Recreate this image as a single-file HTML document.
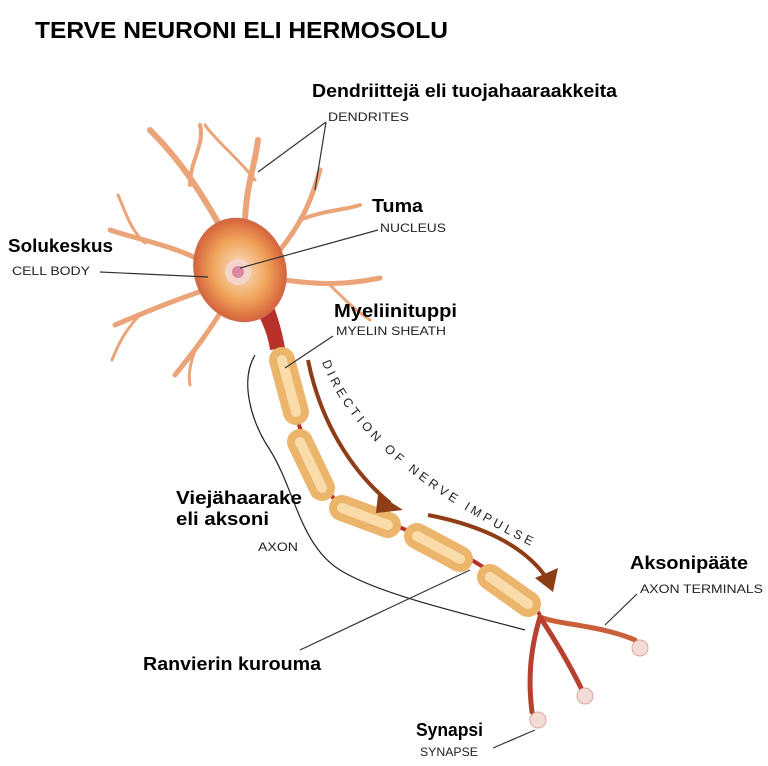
<!DOCTYPE html>
<html><head><meta charset="utf-8"><style>
html,body{margin:0;padding:0;background:#fff;}
svg{display:block;}
.b{font-family:"Liberation Sans",sans-serif;font-weight:bold;font-size:18px;fill:#000;}
.s{font-family:"Liberation Sans",sans-serif;font-size:12px;fill:#222;}
</style></head><body>
<svg width="768" height="766" viewBox="0 0 768 766" xmlns="http://www.w3.org/2000/svg">
<defs>
<radialGradient id="cb" cx="0.5" cy="0.5" r="0.6">
<stop offset="0" stop-color="#fbe3c8"/><stop offset="0.5" stop-color="#f0a35a"/><stop offset="1" stop-color="#c9452c"/>
</radialGradient>
<path id="tp" d="M322,362 C345,425 410,490 560,560"/>
</defs>
<text x="35" y="38" font-family="Liberation Sans,sans-serif" font-weight="bold" font-size="23" fill="#000" textLength="413" lengthAdjust="spacingAndGlyphs">TERVE NEURONI ELI HERMOSOLU</text>

<!-- dendrites -->
<g fill="none" stroke="#eba478" stroke-linecap="round">
<path d="M225,235 C200,190 180,160 150,130" stroke-width="6"/>
<path d="M190,185 C190,160 205,145 200,125" stroke-width="4"/>
<path d="M245,225 C245,190 255,165 258,140" stroke-width="6"/>
<path d="M255,180 C240,160 215,140 205,125" stroke-width="3"/>
<path d="M280,250 C300,225 310,205 320,170" stroke-width="5"/>
<path d="M300,220 C325,210 345,210 360,205" stroke-width="4"/>
<path d="M285,280 C320,285 345,285 380,278" stroke-width="5"/>
<path d="M330,285 C345,300 355,310 370,320" stroke-width="3"/>
<path d="M200,260 C170,245 140,240 110,230" stroke-width="5"/>
<path d="M145,243 C130,230 125,210 118,195" stroke-width="3"/>
<path d="M205,290 C175,300 150,310 115,325" stroke-width="5"/>
<path d="M140,315 C125,330 118,345 112,360" stroke-width="3"/>
<path d="M225,305 C210,330 195,350 175,375" stroke-width="5"/>
<path d="M195,350 C190,365 188,375 190,385" stroke-width="3"/>
</g>
<path d="M250,300 C262,320 268,335 270,350 L285,348 C282,330 276,310 268,292 Z" fill="#b8322a"/>
<ellipse cx="240" cy="270" rx="45" ry="52" transform="rotate(-20 240 270)" fill="url(#cb)" stroke="#d06a48" stroke-width="2"/>
<circle cx="238" cy="272" r="13" fill="#f5d4cc"/>
<circle cx="238" cy="272" r="6" fill="#d98aa0"/>

<path d="M278,350 C290,400 310,470 335,500 C360,515 430,535 475,562 C505,580 530,600 540,615" fill="none" stroke="#b8322a" stroke-width="4"/>
<g stroke-linecap="round" fill="none">
<g stroke="#ecb56c" stroke-width="26">
<path d="M282,360 L296,412"/><path d="M300,442 L322,488"/><path d="M342,508 L388,525"/><path d="M417,536 L460,559"/><path d="M490,577 L528,604"/>
</g>
<g stroke="#f9dcaa" stroke-width="10">
<path d="M282,360 L296,412"/><path d="M300,442 L322,488"/><path d="M342,508 L388,525"/><path d="M417,536 L460,559"/><path d="M490,577 L528,604"/>
</g>
</g>
<g fill="none" stroke-linecap="round">
<path d="M540,617 C560,625 600,625 635,640" stroke-width="5" stroke="#c9603a"/>
<path d="M540,617 C555,640 570,665 582,690" stroke-width="5" stroke="#b8402e"/>
<path d="M540,617 C530,650 528,680 532,712" stroke-width="5" stroke="#b8402e"/>
</g>
<g fill="#f3dcd6" stroke="#d9a8a0">
<circle cx="640" cy="648" r="8"/><circle cx="585" cy="696" r="8"/><circle cx="538" cy="720" r="8"/>
</g>

<g fill="none" stroke="#8e3d16" stroke-width="4">
<path d="M308,360 C320,420 350,470 390,503"/>
<path d="M428,515 C480,525 525,545 548,580"/>
</g>
<path d="M378,494 L403,510 L376,513 Z" fill="#8e3d16"/>
<path d="M535,578 L553,592 L558,568 Z" fill="#8e3d16"/>
<text font-family="Liberation Sans,sans-serif" font-size="12.5" letter-spacing="3.6" fill="#222"><textPath href="#tp">DIRECTION OF NERVE IMPULSE</textPath></text>

<path d="M255,355 C240,380 250,420 270,450 C295,490 300,545 340,570 C380,595 470,615 525,630" fill="none" stroke="#222" stroke-width="1.2"/>

<g stroke="#333" stroke-width="1.2" fill="none">
<path d="M326,122 L258,172"/><path d="M326,122 L315,190"/>
<path d="M378,230 L240,268"/>
<path d="M100,272 L208,277"/>
<path d="M333,336 L285,368"/>
<path d="M300,650 L470,570"/>
<path d="M637,594 L605,625"/>
<path d="M493,748 L535,730"/>
</g>

<text class="b" x="312" y="97" textLength="305" lengthAdjust="spacingAndGlyphs">Dendriittejä eli tuojahaaraakkeita</text>
<text class="s" x="328" y="121" textLength="81" lengthAdjust="spacingAndGlyphs">DENDRITES</text>
<text class="b" x="372" y="212" textLength="51" lengthAdjust="spacingAndGlyphs">Tuma</text>
<text class="s" x="380" y="232" textLength="66" lengthAdjust="spacingAndGlyphs">NUCLEUS</text>
<text class="b" x="8" y="252" textLength="105" lengthAdjust="spacingAndGlyphs">Solukeskus</text>
<text class="s" x="12" y="275" textLength="78" lengthAdjust="spacingAndGlyphs">CELL BODY</text>
<text class="b" x="334" y="317" textLength="123" lengthAdjust="spacingAndGlyphs">Myeliinituppi</text>
<text class="s" x="336" y="335" textLength="110" lengthAdjust="spacingAndGlyphs">MYELIN SHEATH</text>
<text class="b" x="176" y="504" textLength="126" lengthAdjust="spacingAndGlyphs">Viejähaarake</text>
<text class="b" x="176" y="525" textLength="93" lengthAdjust="spacingAndGlyphs">eli aksoni</text>
<text class="s" x="258" y="551" textLength="40" lengthAdjust="spacingAndGlyphs">AXON</text>
<text class="b" x="143" y="670" textLength="178" lengthAdjust="spacingAndGlyphs">Ranvierin kurouma</text>
<text class="b" x="630" y="569" textLength="118" lengthAdjust="spacingAndGlyphs">Aksonipääte</text>
<text class="s" x="640" y="593" textLength="123" lengthAdjust="spacingAndGlyphs">AXON TERMINALS</text>
<text class="b" x="416" y="736" textLength="67" lengthAdjust="spacingAndGlyphs">Synapsi</text>
<text class="s" x="420" y="756" textLength="58" lengthAdjust="spacingAndGlyphs">SYNAPSE</text>
</svg>
</body></html>
